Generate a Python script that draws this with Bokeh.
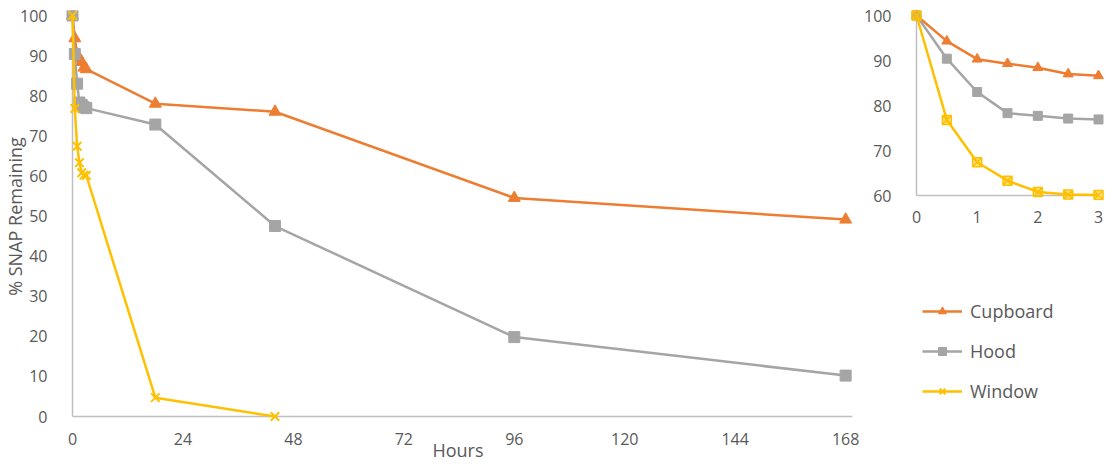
from bokeh.plotting import figure
from bokeh.layouts import row, column
from bokeh.models import Range1d, Legend, LegendItem, FixedTicker
from bokeh.embed import file_html
from bokeh.resources import INLINE

# ---------------- data ----------------
hours = [0, 0.5, 1, 1.5, 2, 2.5, 3, 18, 44, 96, 168]
cupboard = [100, 94.3, 90.3, 89.3, 88.4, 87.0, 86.6, 78.0, 76.0, 54.5, 49.1]
hood = [100, 90.4, 83.0, 78.3, 77.7, 77.1, 76.9, 72.8, 47.5, 19.8, 10.2]
window_hours = [0, 0.5, 1, 1.5, 2, 2.5, 3, 18, 44]
window = [100, 76.8, 67.4, 63.3, 60.8, 60.2, 60.1, 4.7, 0.0]
inset_n = 7  # first seven time points (0-3 h) shown in the inset

main_xticks = [0, 24, 48, 72, 96, 120, 144, 168]
main_yticks = [0, 10, 20, 30, 40, 50, 60, 70, 80, 90, 100]
inset_xticks = [0, 1, 2, 3]
inset_yticks = [60, 70, 80, 90, 100]

series_names = ["Cupboard", "Hood", "Window"]
colors = {"Cupboard": "#ED7D31", "Hood": "#A5A5A5", "Window": "#FFC000"}

FONT = "Open Sans"
TXT = "#595959"
AXC = "#BFBFBF"
H = 465


def style_axes(fig):
    for ax in (fig.xaxis[0], fig.yaxis[0]):
        ax.axis_line_color = None
        ax.major_tick_line_color = None
        ax.minor_tick_line_color = None
        ax.major_label_text_font = FONT
        ax.major_label_text_font_size = "16px"
        ax.major_label_text_color = TXT
        ax.axis_label_text_font = FONT
        ax.axis_label_text_font_size = "18px"
        ax.axis_label_text_font_style = "normal"
        ax.axis_label_text_color = TXT


# ---------------- main chart ----------------
px_h = 4.602   # px per hour
px_y = 4.01    # px per percent
fw, fh = 789, 412
x_start = -9 / px_h
x_end = x_start + fw / px_h
y_start = -6 / px_y
y_end = y_start + fh / px_y
PW = 63 + fw + 8

p = figure(width=PW, height=H, output_backend="svg", toolbar_location=None,
           x_range=Range1d(x_start, x_end), y_range=Range1d(y_start, y_end),
           min_border_left=63, min_border_right=8, min_border_top=10,
           min_border_bottom=H - 10 - fh)
p.outline_line_color = None
p.grid.visible = False
style_axes(p)
p.xaxis.ticker = FixedTicker(ticks=main_xticks)
p.yaxis.ticker = FixedTicker(ticks=main_yticks)
p.xaxis.major_label_standoff = 4
p.yaxis.major_label_standoff = 10
p.xaxis.axis_label = "Hours"
p.yaxis.axis_label = "% SNAP Remaining"
p.xaxis.axis_label_standoff = -10
p.yaxis.axis_label_standoff = -10

# axis lines at the data origin
p.segment(x0=[0, 0], y0=[0, 0], x1=[x_end, 0], y1=[0, 100], line_color=AXC, line_width=1.5)

p.line(hours, cupboard, line_color=colors["Cupboard"], line_width=2.5)
p.scatter(hours, cupboard, marker="triangle", size=12, fill_color=colors["Cupboard"],
          line_color=colors["Cupboard"])
p.line(hours, hood, line_color=colors["Hood"], line_width=2.5)
p.scatter(hours, hood, marker="square", size=11, fill_color=colors["Hood"], line_color=colors["Hood"])
p.line(window_hours, window, line_color=colors["Window"], line_width=2.5)
p.scatter(window_hours, window, marker="x", size=12, line_color=colors["Window"], line_width=2)

# ---------------- inset ----------------
ipx_x = 60.67
ipx_y = 4.5
ifw, ifh = 196, 191
ix_start = -6 / ipx_x
ix_end = ix_start + ifw / ipx_x
iy_start = 60 - 5 / ipx_y
iy_end = iy_start + ifh / ipx_y
QH = 230
QW = 50 + ifw + 1

q = figure(width=QW, height=QH, output_backend="svg", toolbar_location=None,
           x_range=Range1d(ix_start, ix_end), y_range=Range1d(iy_start, iy_end),
           min_border_left=50, min_border_right=1, min_border_top=9,
           min_border_bottom=QH - 9 - ifh)
q.outline_line_color = None
q.grid.visible = False
style_axes(q)
q.xaxis.ticker = FixedTicker(ticks=inset_xticks)
q.yaxis.ticker = FixedTicker(ticks=inset_yticks)
q.xaxis.major_label_standoff = 4
q.yaxis.major_label_standoff = 13

q.segment(x0=[0, 0], y0=[60, 60], x1=[3, 0], y1=[60, 100], line_color=AXC, line_width=1.5)

hi = hours[:inset_n]
q.line(hi, cupboard[:inset_n], line_color=colors["Cupboard"], line_width=2.5)
q.scatter(hi, cupboard[:inset_n], marker="triangle", size=10, fill_color=colors["Cupboard"],
          line_color=colors["Cupboard"])
q.line(hi, hood[:inset_n], line_color=colors["Hood"], line_width=2.5)
q.scatter(hi, hood[:inset_n], marker="square", size=9, fill_color=colors["Hood"], line_color=colors["Hood"])
q.line(window_hours[:inset_n], window[:inset_n], line_color=colors["Window"], line_width=2.5)
q.scatter(window_hours[:inset_n], window[:inset_n], marker="square_x", size=9,
          fill_color=colors["Window"], fill_alpha=0.45, line_color=colors["Window"], line_width=1.5)

# ---------------- legend panel ----------------
# the series are drawn again here but on ranges that keep them out of view;
# only their legend glyphs are visible
LH = H - QH
lg = figure(width=QW, height=LH, output_backend="svg", toolbar_location=None,
            x_range=Range1d(-20, -10), y_range=Range1d(-20, -10), x_axis_type=None, y_axis_type=None,
            min_border_left=0, min_border_right=0, min_border_top=0, min_border_bottom=0)
lg.outline_line_color = None
lg.grid.visible = False
series_y = {"Cupboard": (hours, cupboard), "Hood": (hours, hood), "Window": (window_hours, window)}
markers = {"Cupboard": "triangle", "Hood": "square", "Window": "x"}
msize = {"Cupboard": 12, "Hood": 11, "Window": 12}
items = []
for name in series_names:
    c = colors[name]
    xs, ys = series_y[name]
    lr = lg.line(xs, ys, line_color=c, line_width=2.5)
    sr = lg.scatter(xs, ys, marker=markers[name], size=msize[name], fill_color=c,
                    line_color=c, line_width=2 if name == "Window" else 1)
    items.append(LegendItem(label=name, renderers=[lr, sr]))
leg = Legend(items=items, location=(12, 62), orientation="vertical",
             glyph_width=40, glyph_height=20, spacing=16, padding=0, margin=0,
             label_standoff=8, label_text_font=FONT, label_text_font_size="18px",
             label_text_color=TXT, label_height=20,
             border_line_color=None, background_fill_alpha=0)
lg.add_layout(leg)

layout = row(p, column(q, lg, spacing=0), spacing=0)
open("out.html", "w").write(file_html(layout, INLINE))
